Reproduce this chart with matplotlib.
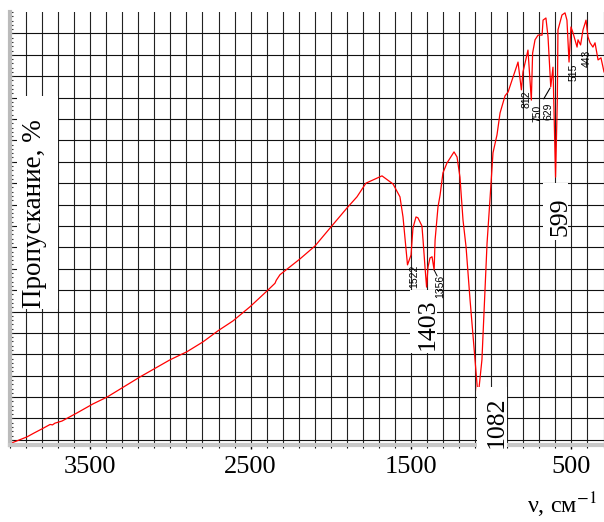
import matplotlib
matplotlib.use('Agg')
import matplotlib.pyplot as plt
import numpy as np
from matplotlib.ticker import MultipleLocator
from matplotlib.patches import Rectangle

plt.rcParams['font.family'] = ['Liberation Serif', 'DejaVu Serif']
plt.rcParams['mathtext.fontset'] = 'stix'

# ИК-спектр: волновое число (см-1) и пропускание (%)
wavenumber = [4000, 3988, 3894, 3850, 3794, 3750, 3735, 3720, 3676, 3582, 3483, 3395,
              3190, 3003, 2897, 2797, 2703, 2610, 2504, 2398, 2348, 2340, 2317, 2192,
              2099, 2005, 1899, 1837, 1781, 1681, 1612, 1569, 1550, 1522, 1500, 1488,
              1469, 1457, 1432, 1425, 1413, 1403, 1394, 1382, 1369, 1356, 1350, 1332,
              1319, 1301, 1276, 1232, 1213, 1195, 1176, 1157, 1132, 1101, 1082, 1058,
              1026, 1008, 989, 964, 945, 914, 895, 864, 839, 833, 812, 802, 789, 771,
              750, 742, 727, 708, 683, 677, 659, 646, 629, 615, 599, 588, 584, 559,
              540, 528, 515, 503, 490, 465, 459, 443, 428, 409, 397, 384, 366, 353,
              334, 316, 297]
transmittance = [-1.0, -0.7, 0.7, 1.6, 2.7, 3.6, 3.5, 3.9, 4.4, 6.3, 8.4, 10.0,
                 14.7, 18.7, 20.6, 22.9, 25.5, 27.8, 31.1, 34.8, 36.6, 37.3, 38.6, 42.3,
                 45.3, 49.5, 54.2, 56.8, 60.0, 61.7, 59.8, 56.8, 52.1, 40.9, 43.2, 49.5,
                 52.1, 51.9, 50.0, 46.7, 40.4, 35.7, 40.4, 42.5, 42.8, 39.7, 46.7, 54.4,
                 57.2, 62.4, 64.7, 67.3, 66.1, 61.4, 51.4, 45.1, 32.7, 18.7, 10.0, 18.7,
                 46.0, 56.1, 67.1, 71.3, 76.4, 80.4, 81.3, 84.8, 87.6, 88.3, 81.8, 86.0,
                 88.1, 91.1, 79.4, 90.4, 93.5, 94.6, 94.6, 98.1, 98.6, 94.2, 82.5, 87.1,
                 61.4, 79.4, 95.8, 99.3, 99.8, 98.1, 88.3, 96.5, 95.1, 91.8, 93.5, 92.3,
                 95.8, 98.1, 94.2, 92.8, 91.8, 92.8, 88.8, 89.3, 86.0]

big_peaks = [1403, 1082, 599]
small_peaks = [1522, 1356, 812, 750, 629, 515, 443]
xtick_values = [3500, 2500, 1500, 500]

W, H = 604, 522
fig = plt.figure(figsize=(W / 100, H / 100), dpi=100)
ax = fig.add_axes([10 / W, 1 - 445 / H, 594 / W, 433 / H])

ax.plot(wavenumber, transmittance, color='#ff0000', lw=0.9, zorder=2)
ax.set_xlim(4000, 297)
ax.set_ylim(-1.2, 100)

ax.set_xticks(xtick_values)
ax.xaxis.set_minor_locator(MultipleLocator(100))
ax.set_yticks(np.arange(0, 100, 5))
ax.yaxis.set_minor_locator(MultipleLocator(1))
ax.set_yticklabels([])
ax.grid(which='both', axis='x', color='#222222', lw=0.8, zorder=0)
ax.grid(which='major', axis='y', color='#111111', lw=0.8, zorder=0)
ax.set_axisbelow(True)

ax.tick_params(axis='x', which='major', direction='out', length=3, width=1,
               labelsize=19, pad=5)
ax.tick_params(axis='x', which='minor', direction='out', length=2, width=0.8)
ax.tick_params(axis='y', which='both', direction='in', length=2, width=0.8, color='#333333')

for s in ['top', 'right']:
    ax.spines[s].set_visible(False)
ax.spines['left'].set_color('#bbbbbb')
ax.spines['left'].set_linewidth(3)
ax.spines['bottom'].set_color('#c8c8c8')
ax.spines['bottom'].set_linewidth(3)


def white_box(x0, x1, y0, y1):
    # прямоугольник в пикселях картинки (y сверху)
    r = Rectangle((x0 / W, 1 - y1 / H), (x1 - x0) / W, (y1 - y0) / H,
                  transform=fig.transFigure, facecolor='white', edgecolor='none',
                  zorder=3, clip_on=False)
    ax.add_patch(r)


white_box(17, 58, 96, 309)
white_box(410, 437, 290, 353)
white_box(477, 507, 387, 450)
white_box(543, 568, 183, 240)

wn_rev = wavenumber[::-1]
tr_rev = transmittance[::-1]


def t_at(v):
    return np.interp(v, wn_rev, tr_rev)


# подписи пиков (смещения в пикселях)
big_offsets = {1403: (1, -37), 1082: (19, -25), 599: (5, -40)}
for v in big_peaks:
    ax.annotate(str(v), xy=(v, t_at(v)), xytext=big_offsets[v], textcoords='offset pixels',
                rotation=90, ha='center', va='center', fontsize=18.5, zorder=4,
                annotation_clip=False)

small_offsets = {1522: (6.5, -11), 1356: (6, -16), 812: (5.6, -9), 750: (6.4, -13),
                 629: (-2, -24), 515: (5, -10), 443: (6, -13)}
for v in small_peaks:
    ax.annotate(str(v), xy=(v, t_at(v)), xytext=small_offsets[v], textcoords='offset pixels',
                rotation=90, ha='center', va='center', fontsize=7.5,
                family=['Liberation Sans', 'DejaVu Sans'], zorder=4)

ax.annotate('', xy=(629, t_at(629)), xytext=(-7, -12), textcoords='offset pixels',
            arrowprops=dict(arrowstyle='-', lw=0.8, color='black', shrinkA=0, shrinkB=1))
ax.annotate('', xy=(1356, t_at(1356)), xytext=(3, -6), textcoords='offset pixels',
            arrowprops=dict(arrowstyle='-', lw=0.7, color='black', shrinkA=0, shrinkB=0))

fig.text(35 / W, 1 - 214 / H, 'Пропускание, %', rotation=90, ha='center', va='center',
         fontsize=19.5, zorder=5)
fig.text(597 / W, 1 - 505 / H, r'ν, см$^{-1}$', ha='right', va='center', fontsize=17.5)

fig.savefig('out.png', dpi=100)
